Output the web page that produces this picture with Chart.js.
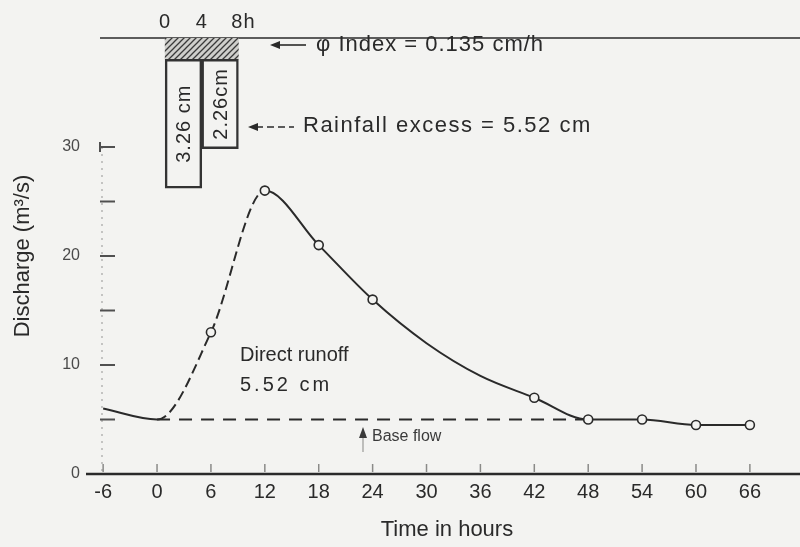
<!DOCTYPE html>
<html>
<head>
<meta charset="utf-8">
<script src="https://cdn.jsdelivr.net/npm/chart.js@4/dist/chart.umd.min.js"></script>
<style>
html,body{margin:0;padding:0;background:#f3f3f1;}
#wrap{width:800px;height:547px;}
</style>
</head>
<body>
<div id="wrap"><canvas id="c" width="800" height="547"></canvas></div>
<script>
// ---- data ----
const times = [-6, 0, 6, 12, 18, 24, 30, 36, 42, 48, 54, 60, 66];
const discharge = [6, 5, 13, 26, 21, 16, 12, 9, 7, 5, 5, 4.5, 4.5];
const markedTimes = [6, 12, 18, 24, 42, 48, 54, 60, 66];
const baseFlowTimes = [0, 48];
const baseFlowValues = [5, 5];
const xTickValues = [-6, 0, 6, 12, 18, 24, 30, 36, 42, 48, 54, 60, 66];
const yTickValues = [0, 5, 10, 15, 20, 25, 30];
const yTickLabels = [0, 10, 20, 30];
const rainPeriodMid = [2, 6];
const rainTotal = [3.8, 2.8];
const rainLoss = [0.54, 0.54];
const rainExcessLabels = ['3.26 cm', '2.26cm'];
const rainTimeTicks = [0, 4, 8];
const rainTimeLabels = ['0', '4', '8h'];

// ---- style ----
const FONT = "'Liberation Sans', Arial, sans-serif";
const BG = '#f3f3f1';
const INK = '#2a2a2a';
Chart.defaults.font.family = FONT;
Chart.defaults.color = INK;

const canvas = document.getElementById('c');
const ctx0 = canvas.getContext('2d');

function hatchPattern() {
  const c = document.createElement('canvas');
  c.width = 6; c.height = 6;
  const g = c.getContext('2d');
  g.fillStyle = '#cfcfcc';
  g.fillRect(0, 0, 6, 6);
  g.strokeStyle = '#3a3a3a';
  g.lineWidth = 1.3;
  g.beginPath();
  g.moveTo(0, 6); g.lineTo(6, 0);
  g.moveTo(-1, 1); g.lineTo(1, -1);
  g.moveTo(5, 7); g.lineTo(7, 5);
  g.stroke();
  return ctx0.createPattern(c, 'repeat');
}

const bgPlugin = {
  id: 'bg',
  beforeDraw(chart) {
    const c = chart.ctx;
    c.save();
    c.fillStyle = BG;
    c.fillRect(0, 0, chart.width, chart.height);
    c.restore();
  }
};

function headLeft(c, x, y) {
  c.beginPath(); c.moveTo(x, y); c.lineTo(x + 10, y - 4); c.lineTo(x + 10, y + 4); c.closePath(); c.fill();
}
function headUp(c, x, y) {
  c.beginPath(); c.moveTo(x, y); c.lineTo(x - 4, y + 11); c.lineTo(x + 4, y + 11); c.closePath(); c.fill();
}
function setSpacing(c, v) { try { c.letterSpacing = v; } catch (e) {} }

const decorPlugin = {
  id: 'decor',
  beforeDatasetsDraw(chart) {
    const { ctx, chartArea: a, scales: { x, y } } = chart;
    ctx.save();
    ctx.strokeStyle = '#a5a5a3'; ctx.lineWidth = 1.2; ctx.setLineDash([2, 5]);
    ctx.beginPath(); ctx.moveTo(a.left + 2, y.getPixelForValue(30)); ctx.lineTo(a.left + 2, a.bottom); ctx.stroke();
    ctx.setLineDash([]);
    ctx.strokeStyle = '#505050'; ctx.lineWidth = 2;
    y.ticks.forEach(t => {
      const py = y.getPixelForValue(t.value);
      ctx.beginPath(); ctx.moveTo(a.left, py); ctx.lineTo(a.left + 15, py); ctx.stroke();
    });
    ctx.beginPath(); ctx.moveTo(a.left, y.getPixelForValue(30) - 5); ctx.lineTo(a.left, y.getPixelForValue(30) + 5); ctx.stroke();
    ctx.strokeStyle = '#8a8a88'; ctx.lineWidth = 1.5;
    x.ticks.forEach(t => {
      const px = x.getPixelForValue(t.value);
      ctx.beginPath(); ctx.moveTo(px, a.bottom - 2); ctx.lineTo(px, a.bottom - 10); ctx.stroke();
    });
    ctx.strokeStyle = INK; ctx.lineWidth = 2.5;
    ctx.beginPath(); ctx.moveTo(a.left - 14, a.bottom); ctx.lineTo(chart.width, a.bottom); ctx.stroke();
    ctx.lineWidth = 1.6;
    ctx.beginPath(); ctx.moveTo(a.left, a.top); ctx.lineTo(chart.width, a.top); ctx.stroke();
    ctx.restore();
  },
  afterDatasetsDraw(chart) {
    const { ctx, scales: { xr, y2 } } = chart;
    ctx.save();
    ctx.fillStyle = INK;
    ctx.strokeStyle = INK;
    setSpacing(ctx, '1px');
    ctx.font = '20px ' + FONT;
    ctx.textAlign = 'center'; ctx.textBaseline = 'middle';
    rainTimeTicks.forEach((t, i) => {
      const dx = rainTimeLabels[i].length > 1 ? 5 : 0;
      ctx.fillText(rainTimeLabels[i], xr.getPixelForValue(t) + dx, 22);
    });
    ctx.font = '20px ' + FONT;
    rainPeriodMid.forEach((t, i) => {
      const px = xr.getPixelForValue(t);
      const py = (y2.getPixelForValue(rainLoss[i]) + y2.getPixelForValue(rainTotal[i])) / 2;
      ctx.save();
      ctx.translate(px + 1, py);
      ctx.rotate(-Math.PI / 2);
      ctx.fillText(rainExcessLabels[i], 0, 0);
      ctx.restore();
    });
    ctx.lineWidth = 1.6;
    headLeft(ctx, 270, 45);
    ctx.beginPath(); ctx.moveTo(278, 45); ctx.lineTo(306, 45); ctx.stroke();
    ctx.textAlign = 'left';
    ctx.font = '22px ' + FONT;
    ctx.fillText('φ Index = 0.135 cm/h', 316, 45);
    headLeft(ctx, 248, 127);
    ctx.setLineDash([7, 4]);
    ctx.beginPath(); ctx.moveTo(256, 127); ctx.lineTo(294, 127); ctx.stroke();
    ctx.setLineDash([]);
    setSpacing(ctx, '1.5px');
    ctx.fillText('Rainfall excess = 5.52 cm', 303, 126);
    setSpacing(ctx, '0px');
    ctx.font = '20px ' + FONT;
    ctx.fillText('Direct runoff', 240, 355);
    setSpacing(ctx, '3px');
    ctx.fillText('5.52 cm', 240, 385);
    setSpacing(ctx, '0px');
    ctx.fillStyle = '#3a3a3a';
    headUp(ctx, 363, 427);
    ctx.strokeStyle = '#9a9a98'; ctx.lineWidth = 1.2;
    ctx.beginPath(); ctx.moveTo(363, 438); ctx.lineTo(363, 452); ctx.stroke();
    ctx.font = '16px ' + FONT;
    ctx.fillText('Base flow', 372, 437);
    ctx.restore();
  }
};

const hydroData = times.map((t, i) => ({ x: t, y: discharge[i] }));
const baseData = baseFlowTimes.map((t, i) => ({ x: t, y: baseFlowValues[i] }));
const lossData = rainPeriodMid.map((t, i) => ({ x: t, y: [0, rainLoss[i]] }));
const excessData = rainPeriodMid.map((t, i) => ({ x: t, y: [rainLoss[i], rainTotal[i]] }));

new Chart(canvas, {
  type: 'line',
  data: {
    datasets: [
      {
        label: 'Discharge',
        data: hydroData,
        xAxisID: 'x', yAxisID: 'y',
        borderColor: INK, borderWidth: 2,
        cubicInterpolationMode: 'monotone',
        pointRadius: c => markedTimes.includes(times[c.dataIndex]) ? 4.5 : 0,
        pointBackgroundColor: BG, pointBorderColor: INK, pointBorderWidth: 1.6,
        segment: {
          borderDash: c => (c.p0.parsed.x >= 0 && c.p1.parsed.x <= 12) ? [10, 5] : undefined
        },
        order: 1
      },
      {
        label: 'Base flow',
        data: baseData,
        xAxisID: 'x', yAxisID: 'y',
        borderColor: INK, borderWidth: 2.2, borderDash: [13, 9],
        pointRadius: 0, tension: 0,
        order: 2
      },
      {
        type: 'bar',
        label: 'Loss',
        data: lossData,
        xAxisID: 'xr', yAxisID: 'y2',
        backgroundColor: hatchPattern(),
        borderWidth: 0,
        grouped: false, categoryPercentage: 1, barPercentage: 1,
        order: 4
      },
      {
        type: 'bar',
        label: 'Rainfall excess',
        data: excessData,
        xAxisID: 'xr', yAxisID: 'y2',
        backgroundColor: 'rgba(0,0,0,0)',
        borderColor: '#333', borderWidth: 1.8, borderSkipped: false,
        grouped: false, categoryPercentage: 1, barPercentage: 1,
        order: 3
      }
    ]
  },
  options: {
    responsive: false,
    animation: false,
    devicePixelRatio: 1,
    layout: { padding: { top: 38, right: 0, left: 0, bottom: 0 } },
    plugins: { legend: { display: false }, tooltip: { enabled: false } },
    scales: {
      x: {
        type: 'linear', position: 'bottom', offset: false,
        min: -6.35, max: 70.9,
        afterBuildTicks: s => { s.ticks = xTickValues.map(v => ({ value: v })); },
        afterFit: s => { s.height = 73; },
        grid: { display: false, drawTicks: false, offset: false },
        border: { display: false },
        ticks: { padding: 6, color: INK, font: { size: 20 }, maxRotation: 0, autoSkip: false, callback: v => String(v) },
        title: { display: true, text: 'Time in hours', color: INK, font: { size: 22, lineHeight: 1.2 }, padding: { top: 0, bottom: 4 } }
      },
      y: {
        type: 'linear', position: 'left',
        min: 0, max: 40,
        afterBuildTicks: s => { s.ticks = yTickValues.map(v => ({ value: v })); },
        afterFit: s => { s.width = 100; },
        grid: { display: false, drawTicks: false },
        border: { display: false },
        ticks: { padding: 20, color: '#4a4a4a', font: { size: 16 }, callback: v => yTickLabels.includes(v) ? String(v) : '' },
        title: { display: true, text: 'Discharge (m³/s)', color: INK, font: { size: 22, lineHeight: 1.2 }, padding: { top: 10, bottom: 0 } }
      },
      xr: {
        type: 'linear', display: false, position: 'bottom', offset: false,
        grid: { offset: false },
        min: -7.12, max: 68.7,
        afterBuildTicks: s => { s.ticks = rainTimeTicks.map(v => ({ value: v })); }
      },
      y2: {
        type: 'linear', display: false, position: 'left', reverse: true,
        min: 0, max: 11.04
      }
    }
  },
  plugins: [bgPlugin, decorPlugin]
});
</script>
</body>
</html>
